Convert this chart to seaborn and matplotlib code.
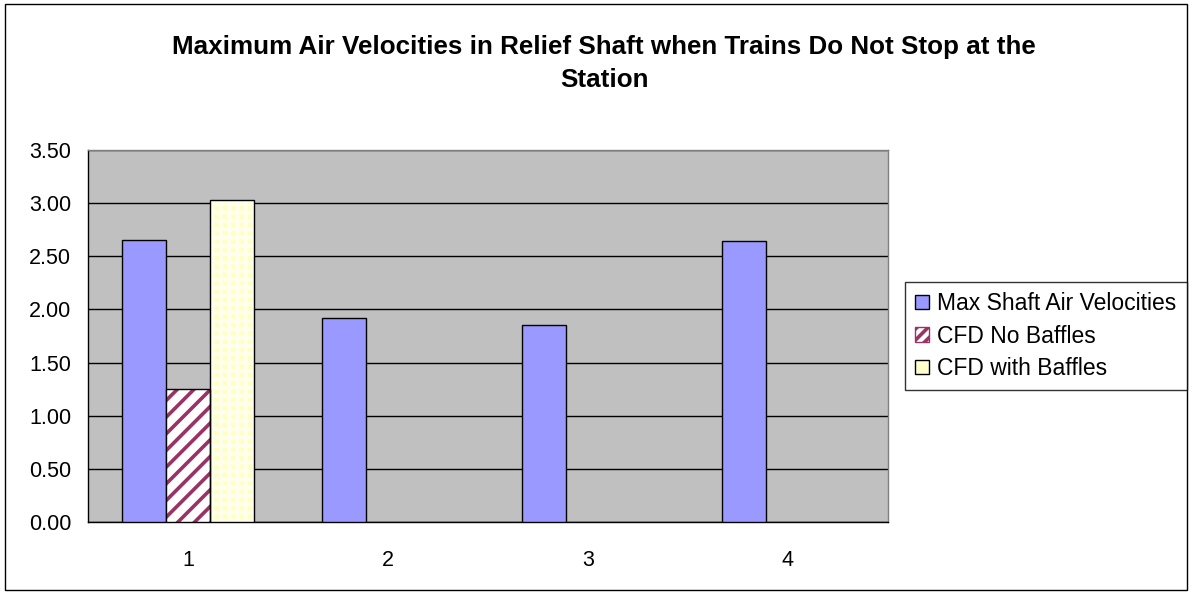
import matplotlib
matplotlib.use('Agg')
import matplotlib.pyplot as plt
from matplotlib.patches import Patch, Rectangle
import seaborn as sns
import pandas as pd
import numpy as np

# data
categories = ['1', '2', '3', '4']
series_names = ['Max Shaft Air Velocities', 'CFD No Baffles', 'CFD with Baffles']
max_shaft = [2.65, 1.92, 1.85, 2.64]
cfd_no_baffles = [1.25, np.nan, np.nan, np.nan]
cfd_with_baffles = [3.03, np.nan, np.nan, np.nan]

title = 'Maximum Air Velocities in Relief Shaft when Trains Do Not Stop at the\nStation'

blue = '#9999FF'
maroon = '#993366'
yellow = '#FFFFCC'

# long table for seaborn
rows = []
for name, vals in zip(series_names, [max_shaft, cfd_no_baffles, cfd_with_baffles]):
    for c, v in zip(categories, vals):
        rows.append({'group': c, 'series': name, 'value': v})
df = pd.DataFrame(rows).dropna()

sns.set_theme(style='white')
plt.rcParams['font.family'] = ['Liberation Sans', 'DejaVu Sans']
plt.rcParams['hatch.linewidth'] = 2.6
plt.rcParams['text.color'] = 'black'
plt.rcParams['xtick.color'] = 'black'
plt.rcParams['ytick.color'] = 'black'

fig = plt.figure(figsize=(11.92, 5.93), dpi=100)
ax = fig.add_axes([88 / 1192, 71 / 593, 800 / 1192, 372 / 593])
ax.set_facecolor('#C0C0C0')

sns.barplot(data=df, x='group', y='value', hue='series', order=categories,
            hue_order=series_names, palette=[blue, maroon, yellow],
            width=0.66, saturation=1, edgecolor='black', linewidth=1,
            legend=False, ax=ax, zorder=3)

# patterns on the CFD bars
for bar in ax.containers[1]:
    bar.set_facecolor('white')
    bar.set_edgecolor(maroon)
    bar.set_hatch('//')
    bar.set_linewidth(0)
    ax.add_patch(Rectangle(bar.get_xy(), bar.get_width(), bar.get_height(),
                           fill=False, edgecolor='black', lw=1, zorder=4))
for bar in ax.containers[2]:
    bar.set_facecolor('#FFFFC4')
    bar.set_edgecolor('#FFFFEE')
    bar.set_hatch('++')
    bar.set_linewidth(0)
    ax.add_patch(Rectangle(bar.get_xy(), bar.get_width(), bar.get_height(),
                           fill=False, edgecolor='black', lw=1, zorder=4))

ax.set_ylim(0, 3.5)
ax.set_xlim(-0.5, 3.5)
ax.set_yticks(np.arange(0, 3.51, 0.5))
ax.set_yticklabels([f'{v:.2f}' for v in np.arange(0, 3.51, 0.5)])
ax.yaxis.grid(True, color='black', lw=1)
ax.set_axisbelow(True)

# category boundaries as major ticks, labels on minor ticks
ax.set_xticks(np.arange(-0.5, 3.6, 1.0))
ax.set_xticklabels([])
ax.set_xticks(range(len(categories)), minor=True)
ax.set_xticklabels(categories, minor=True)
ax.tick_params(axis='x', which='major', direction='out', length=6, width=1, color='black')
ax.tick_params(axis='x', which='minor', length=0, pad=20, labelsize=15.5)
ax.tick_params(axis='y', direction='out', length=5, width=1, color='black', pad=7, labelsize=15.5)
ax.set_xlabel('')
ax.set_ylabel('')

for s in ['top', 'right']:
    ax.spines[s].set_color('#808080')
for s in ['left', 'bottom']:
    ax.spines[s].set_color('black')
for s in ax.spines.values():
    s.set_linewidth(1)

fig.text(0.507, 0.893, title, ha='center', va='center', fontsize=18.7,
         fontweight='bold', linespacing=1.45, color='black')

handles = [Patch(facecolor=blue, edgecolor='black'),
           Patch(facecolor='white', edgecolor=maroon, hatch='///'),
           Patch(facecolor=yellow, edgecolor='black')]
leg = fig.legend(handles, series_names, loc='center left',
                 bbox_to_anchor=(905 / 1192, 1 - 336 / 593), frameon=True,
                 fancybox=False, fontsize=16.5, handlelength=0.6,
                 handleheight=0.6, handletextpad=0.35, borderpad=0.45,
                 labelspacing=0.42, borderaxespad=0)
leg.get_frame().set_edgecolor('black')
leg.get_frame().set_linewidth(1)

# outer chart border
fig.patches.append(Rectangle((5 / 1192, 3 / 593), 1182 / 1192, 586 / 593,
                             transform=fig.transFigure, fill=False,
                             edgecolor='black', lw=1))

fig.savefig('out.png', dpi=100)
